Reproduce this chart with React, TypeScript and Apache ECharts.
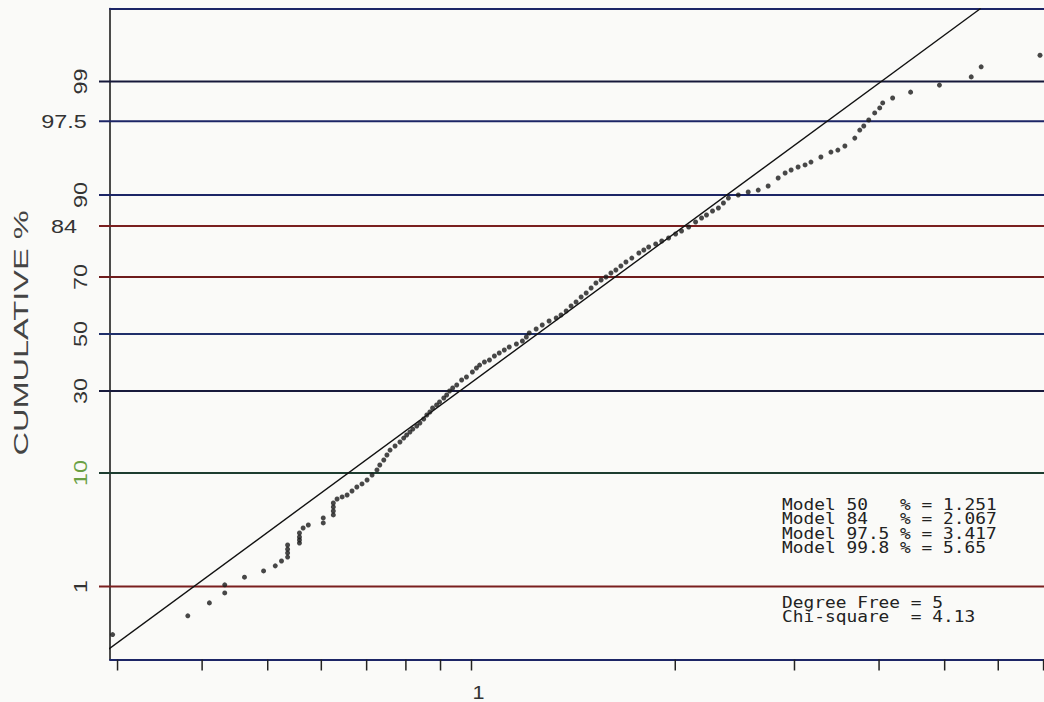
import React, { useEffect, useRef } from 'react';
import * as echarts from 'echarts';

// ---------- data ----------
const sampleValues = [
  0.295, 0.381, 0.410, 0.432, 0.432, 0.462, 0.493, 0.513, 0.524, 0.535,
  0.535, 0.535, 0.535, 0.557, 0.557, 0.557, 0.557, 0.564, 0.574, 0.604,
  0.604, 0.625, 0.625, 0.625, 0.625, 0.633, 0.644, 0.655, 0.666, 0.677,
  0.689, 0.701, 0.713, 0.725, 0.732, 0.742, 0.750, 0.758, 0.771, 0.784,
  0.794, 0.802, 0.811, 0.819, 0.830, 0.839, 0.850, 0.859, 0.868, 0.876,
  0.888, 0.897, 0.910, 0.919, 0.928, 0.938, 0.951, 0.967, 0.983, 1.003,
  1.017, 1.028, 1.045, 1.063, 1.081, 1.099, 1.118, 1.137, 1.165, 1.189,
  1.205, 1.217, 1.246, 1.272, 1.302, 1.334, 1.356, 1.380, 1.403, 1.427,
  1.452, 1.477, 1.502, 1.527, 1.554, 1.580, 1.607, 1.634, 1.662, 1.691,
  1.725, 1.767, 1.797, 1.827, 1.871, 1.910, 1.955, 2.002, 2.043, 2.093,
  2.143, 2.187, 2.224, 2.270, 2.316, 2.356, 2.396, 2.478, 2.563, 2.652,
  2.743, 2.838, 2.906, 2.966, 3.037, 3.110, 3.173, 3.282, 3.396, 3.477,
  3.561, 3.683, 3.746, 3.797, 3.862, 3.941, 4.009, 4.050, 4.189, 4.453,
  4.912, 5.473, 5.661, 6.915,
];
const cumulativePercent = [
  0.28, 0.47, 0.66, 0.85, 1.04, 1.25, 1.45, 1.63, 1.82, 1.99,
  2.18, 2.37, 2.59, 2.70, 2.88, 3.07, 3.33, 3.69, 3.92, 4.08,
  4.50, 4.77, 5.14, 5.55, 5.97, 6.42, 6.66, 6.89, 7.40, 7.93,
  8.35, 8.92, 9.68, 10.51, 11.37, 12.28, 13.24, 14.24, 15.09, 15.98,
  16.88, 17.59, 18.33, 19.05, 19.82, 20.61, 21.68, 22.77, 23.61, 24.77,
  25.65, 26.54, 27.76, 28.70, 29.98, 30.93, 31.92, 33.58, 34.60, 36.32,
  37.71, 38.74, 39.82, 40.52, 41.96, 43.05, 44.15, 45.22, 46.33, 47.42,
  48.90, 50.37, 51.84, 53.31, 54.78, 55.85, 56.95, 58.39, 60.18, 61.60,
  63.34, 64.73, 66.42, 68.08, 69.07, 70.02, 71.30, 72.24, 73.46, 74.66,
  75.80, 77.24, 78.06, 78.87, 79.65, 80.43, 81.19, 82.17, 82.87, 83.80,
  84.90, 85.75, 86.37, 87.16, 87.72, 88.63, 89.49, 89.99, 90.47, 90.77,
  91.37, 92.48, 93.11, 93.47, 93.81, 94.04, 94.35, 94.86, 95.32, 95.50,
  95.84, 96.45, 96.99, 97.24, 97.57, 97.92, 98.14, 98.34, 98.52, 98.71,
  98.91, 99.11, 99.31, 99.49,
];

// fitted log-normal model line (from -3 sigma to +3 sigma)
const modelValues = [0.2773, 5.65];
const modelPercents = [0.135, 99.865];

// probability axis gridlines
const gridPercents = [1, 10, 30, 50, 70, 84, 90, 97.5, 99];
const gridLabels = ['1', '10', '30', '50', '70', '84', '90', '97.5', '99'];
const horizontalLabels = ['84', '97.5'];

// log x-axis ticks
const xTickValues = [0.3, 0.4, 0.5, 0.6, 0.7, 0.8, 0.9, 1, 2, 3, 4, 5, 6, 7];
const xTickLabels = ['', '', '', '', '', '', '', '1', '', '', '', '', '', ''];

const modelText = [
  'Model 50   % = 1.251',
  'Model 84   % = 2.067',
  'Model 97.5 % = 3.417',
  'Model 99.8 % = 5.65',
];
const fitText = ['Degree Free = 5', 'Chi-square  = 4.13'];
const yTitle = 'CUMULATIVE %';

const X_MIN = 0.2924;
const X_MAX = 7.01;
const P_MIN = 0.135;
const P_MAX = 99.865;

// ---------- styles ----------
const NAVY = '#1c2566';
const DARKRED = '#7a1f1f';
const gridColors: Record<string, string> = {
  '1': DARKRED,
  '10': '#1d3d30',
  '30': '#181a3c',
  '50': '#1f2f6a',
  '70': '#6e1c1c',
  '84': DARKRED,
  '90': NAVY,
  '97.5': NAVY,
  '99': '#15183a',
};
const labelColors: Record<string, string> = { '10': '#6aa043' };

// inverse standard normal CDF (probability-axis transform)
function probit(p: number): number {
  const a = [-3.969683028665376e1, 2.209460984245205e2, -2.759285104469687e2, 1.38357751867269e2, -3.066479806614716e1, 2.506628277459239];
  const b = [-5.447609879822406e1, 1.615858368580409e2, -1.556989798598866e2, 6.680131188771972e1, -1.328068155288572e1];
  const c = [-7.784894002430293e-3, -3.223964580411365e-1, -2.400758277161838, -2.549732539343734, 4.374664141464968, 2.938163982698783];
  const d = [7.784695709041462e-3, 3.224671290700398e-1, 2.445134137142996, 3.754408661907416];
  const pl = 0.02425;
  if (p < pl) {
    const q = Math.sqrt(-2 * Math.log(p));
    return (((((c[0] * q + c[1]) * q + c[2]) * q + c[3]) * q + c[4]) * q + c[5]) / ((((d[0] * q + d[1]) * q + d[2]) * q + d[3]) * q + 1);
  }
  if (p <= 1 - pl) {
    const q = p - 0.5;
    const r = q * q;
    return ((((((a[0] * r + a[1]) * r + a[2]) * r + a[3]) * r + a[4]) * r + a[5]) * q) / (((((b[0] * r + b[1]) * r + b[2]) * r + b[3]) * r + b[4]) * r + 1);
  }
  const q = Math.sqrt(-2 * Math.log(1 - p));
  return -(((((c[0] * q + c[1]) * q + c[2]) * q + c[3]) * q + c[4]) * q + c[5]) / ((((d[0] * q + d[1]) * q + d[2]) * q + d[3]) * q + 1);
}
const pz = (pct: number) => probit(pct / 100);

const LABEL_FONT = '18px "Liberation Sans", Arial, sans-serif';
const MONO_FONT = '16px "DejaVu Sans Mono", monospace';

function buildOption(): any {
  const yMin = pz(P_MIN);
  const yMax = pz(P_MAX);
  const hiddenAxisParts = {
    axisTick: { show: false },
    axisLabel: { show: false },
    splitLine: { show: false },
    minorTick: { show: false },
    minorSplitLine: { show: false },
  };
  return {
    animation: false,
    backgroundColor: '#fafaf8',
    grid: { left: 110, top: 8.5, right: 0, bottom: 42.5, containLabel: false },
    xAxis: [
      {
        type: 'log',
        logBase: 10,
        min: X_MIN,
        max: X_MAX,
        position: 'bottom',
        axisLine: { show: true, onZero: false, lineStyle: { color: NAVY, width: 2 } },
        ...hiddenAxisParts,
      },
      {
        type: 'log',
        logBase: 10,
        min: X_MIN,
        max: X_MAX,
        position: 'top',
        axisLine: { show: true, onZero: false, lineStyle: { color: NAVY, width: 2 } },
        ...hiddenAxisParts,
      },
    ],
    yAxis: {
      type: 'value',
      min: yMin,
      max: yMax,
      axisLine: { show: true, onZero: false, lineStyle: { color: '#111', width: 1.5 } },
      ...hiddenAxisParts,
    },
    series: [
      {
        type: 'custom',
        name: 'gridlines',
        xAxisIndex: 0,
        silent: true,
        clip: false,
        data: gridPercents.map((p) => [1, pz(p)]),
        renderItem: (params: any, api: any) => {
          const idx = params.dataIndex;
          const label = gridLabels[idx];
          const pt = api.coord([1, api.value(1)]);
          const cs = params.coordSys;
          const y = pt[1];
          const horiz = horizontalLabels.indexOf(label) >= 0;
          return {
            type: 'group',
            children: [
              {
                type: 'line',
                shape: { x1: cs.x - 11, y1: y, x2: cs.x + cs.width, y2: y },
                style: { stroke: gridColors[label] || NAVY, lineWidth: 2 },
              },
              {
                type: 'text',
                x: horiz ? cs.x - 46 : cs.x - 29,
                y: y,
                rotation: horiz ? 0 : Math.PI / 2,
                scaleX: 1.3,
                style: {
                  text: label,
                  font: LABEL_FONT,
                  fill: labelColors[label] || '#333',
                  textAlign: 'center',
                  align: 'center',
                  textVerticalAlign: 'middle',
                  verticalAlign: 'middle',
                },
              },
            ],
          };
        },
        z: 1,
      },
      {
        type: 'custom',
        name: 'xticks',
        silent: true,
        clip: false,
        data: xTickValues.map((v) => [v, yMin]),
        renderItem: (params: any, api: any) => {
          const pt = api.coord([api.value(0), api.value(1)]);
          const lab = xTickLabels[params.dataIndex];
          const children: any[] = [
            {
              type: 'line',
              shape: { x1: pt[0], y1: pt[1], x2: pt[0], y2: pt[1] + 11 },
              style: { stroke: '#222', lineWidth: 1.5 },
            },
          ];
          if (lab) {
            children.push({
              type: 'text',
              x: pt[0] + 7,
              y: pt[1] + 33,
              scaleX: 1.2,
              style: {
                text: lab,
                font: LABEL_FONT,
                fill: '#333',
                textAlign: 'center',
                align: 'center',
                textVerticalAlign: 'middle',
                verticalAlign: 'middle',
              },
            });
          }
          return { type: 'group', children };
        },
        z: 2,
      },
      {
        type: 'line',
        name: 'model',
        data: modelValues.map((v, i) => [v, pz(modelPercents[i])]),
        showSymbol: false,
        clip: true,
        lineStyle: { color: '#111', width: 1.4 },
        z: 3,
      },
      {
        type: 'scatter',
        name: 'samples',
        data: sampleValues.map((v, i) => [v, pz(cumulativePercent[i])]),
        symbol: 'circle',
        symbolSize: 5,
        itemStyle: { color: '#1a1a1a' },
        z: 4,
      },
    ],
    graphic: [
      {
        type: 'text',
        x: 21,
        y: 333,
        rotation: Math.PI / 2,
        scaleX: 1.55,
        style: {
          text: yTitle,
          font: '21px "Liberation Sans", Arial, sans-serif',
          fill: '#444',
          textAlign: 'center',
          align: 'center',
          textVerticalAlign: 'middle',
          verticalAlign: 'middle',
        },
      },
      {
        type: 'text',
        x: 782,
        y: 497,
        scaleX: 1.115,
        style: {
          text: modelText.join('\n'),
          font: MONO_FONT,
          lineHeight: 14.5,
          fill: '#222',
          textVerticalAlign: 'top',
          verticalAlign: 'top',
        },
      },
      {
        type: 'text',
        x: 782,
        y: 595,
        scaleX: 1.115,
        style: {
          text: fitText.join('\n'),
          font: MONO_FONT,
          lineHeight: 14.5,
          fill: '#222',
          textVerticalAlign: 'top',
          verticalAlign: 'top',
        },
      },
    ],
  };
}

export default function App() {
  const ref = useRef<HTMLDivElement>(null);
  useEffect(() => {
    if (!ref.current) return;
    const chart = echarts.init(ref.current, null, { renderer: 'svg' });
    chart.setOption(buildOption());
    return () => chart.dispose();
  }, []);
  return (
    <div
      ref={ref}
      style={{ position: 'fixed', left: 0, top: 0, width: 1044, height: 702 }}
    />
  );
}
